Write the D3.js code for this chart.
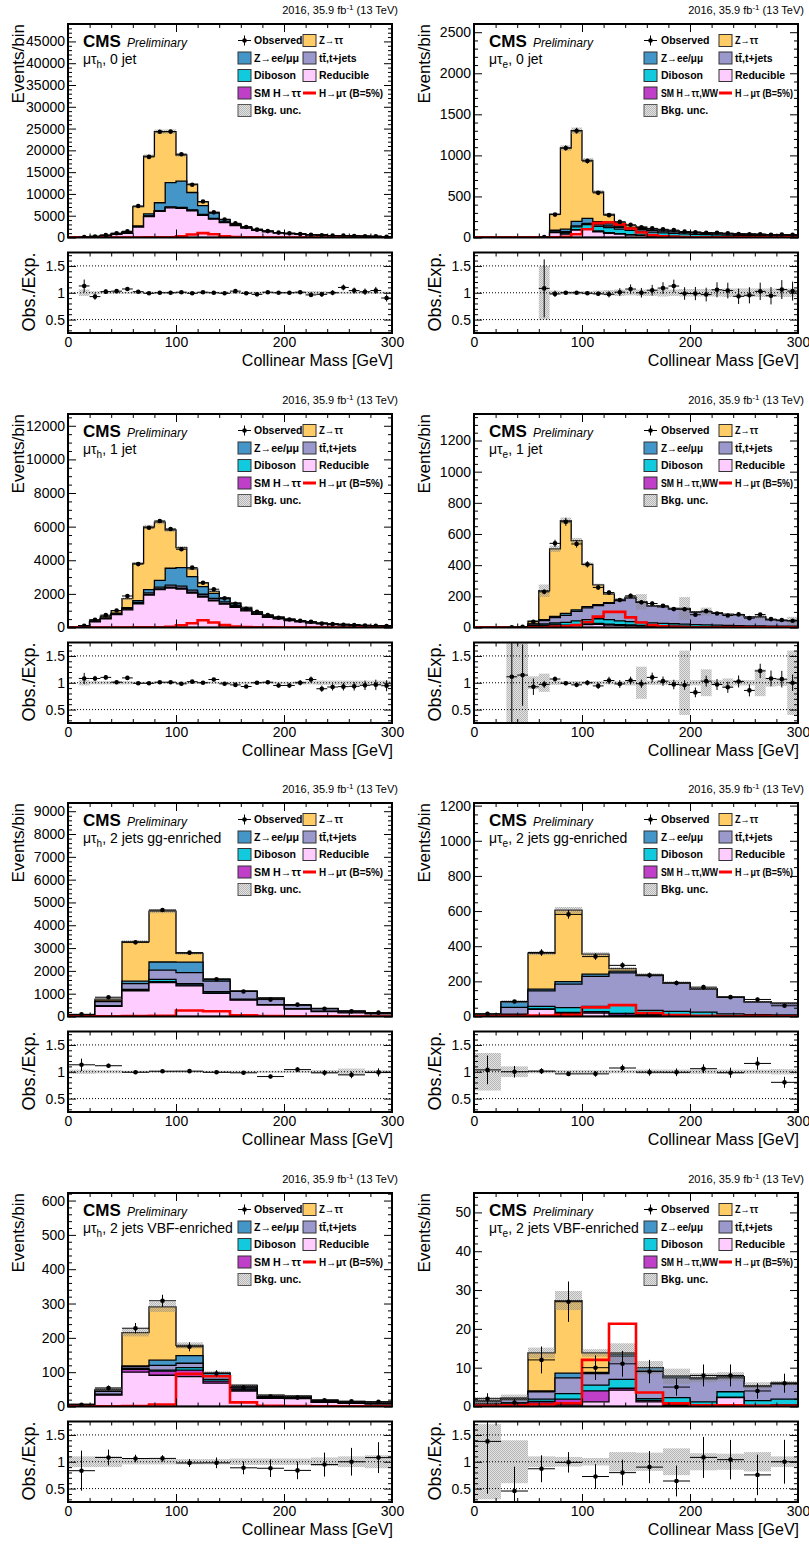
<!DOCTYPE html>
<html>
<head>
<meta charset="utf-8">
<script src="https://cdn.jsdelivr.net/npm/d3@7"></script>
<style>
  body { margin: 0; background: #fff; }
  svg text { font-family: "Liberation Sans", Arial, Helvetica, sans-serif; }
</style>
</head>
<body>
<svg id="chart" width="809" height="1551"></svg>
<script>
// ---------- binning ----------
const edges10 = [0,10,20,30,40,50,60,70,80,90,100,110,120,130,140,150,160,170,180,190,200,210,220,230,240,250,260,270,280,290,300];
const edges25 = [0,25,50,75,100,125,150,175,200,225,250,275,300];

// ---------- tick labels ----------
const massTicks = [0, 100, 200, 300];
const ratioTicks = [0.5, 1, 1.5];
const p1YTicks = [0,5000,10000,15000,20000,25000,30000,35000,40000,45000];
const p2YTicks = [0,500,1000,1500,2000,2500];
const p3YTicks = [0,2000,4000,6000,8000,10000,12000];
const p4YTicks = [0,200,400,600,800,1000,1200];
const p5YTicks = [0,1000,2000,3000,4000,5000,6000,7000,8000,9000];
const p6YTicks = [0,200,400,600,800,1000,1200];
const p7YTicks = [0,100,200,300,400,500,600];
const p8YTicks = [0,10,20,30,40,50];

// ---------- mu tau_h, 0 jet ----------
const p1Red = [0,60,200,400,700,950,2400,4800,6000,6800,6700,6100,5100,4200,3400,2750,2150,1650,1300,1000,850,700,570,480,400,340,290,240,210,180];
const p1Smh = [0,0,0,2,4,8,15,30,45,60,75,80,75,60,45,30,20,15,10,8,6,5,4,3,3,2,2,2,1,1];
const p1Vv  = [0,2,5,10,15,25,35,50,60,65,65,60,55,50,45,40,35,30,25,22,20,18,15,13,12,10,9,8,7,6];
const p1Tt  = [0,2,5,10,20,30,45,60,75,85,90,90,85,80,75,65,55,50,45,40,35,30,27,24,21,19,17,15,13,12];
const p1Zll = [0,5,15,30,50,80,150,500,1800,5600,6000,4000,2000,1200,550,250,150,100,70,50,40,30,25,20,15,12,10,8,7,6];
const p1Ztt = [0,10,40,80,150,250,4450,13250,16300,11700,6000,1900,850,180,60,30,15,10,5,3,2,1,1,1,0,0,0,0,0,0];
const p1Obs = [0,89,246,543,967,1437,7237,18503,24280,24310,19119,12108,8247,5770,4133,3260,2401,1799,1470,1123,953,792,616,525,451,421,341,278,248,185];
const p1Sig = [0,0,0,0,0,5,10,20,40,60,300,700,1000,750,300,100,40,20,10,5,3,2,1,1,1,0,0,0,0,0];
const p1Unc = [0,0.06,0.03,0.02,0.02,0.02,0.02,0.02,0.02,0.02,0.02,0.02,0.02,0.02,0.02,0.02,0.02,0.02,0.02,0.02,0.02,0.02,0.03,0.03,0.02,0.02,0.02,0.02,0.02,0.02];

// ---------- mu tau_e, 0 jet ----------
const p2Red = [0,0,0,0,0,0,2,60,40,90,100,70,50,40,30,25,20,15,12,10,8,7,6,5,5,4,4,3,3,3];
const p2Smh = [0,0,0,0,0,0,0,2,3,5,8,10,10,8,6,4,3,2,2,1,1,1,1,1,0.5,0.5,0.5,0.5,0.5,0.5];
const p2Vv  = [0,0,0,0,0,0,0.7,15,20,35,50,55,60,55,50,48,43,40,36,33,30,27,25,23,21,20,18,17,16,15];
const p2Tt  = [0,0,0,0,0,0,0.5,5,8,12,15,18,20,22,22,22,21,20,19,18,17,16,15,14,13,12,11,10,9,9];
const p2Zll = [0,0,0,0,0,0,0.2,8,30,55,60,40,25,15,10,8,6,5,4,4,4,4,3,3,3,3,3,3,3,3];
const p2Ztt = [0,0,0,0,0,0,0.3,195,989,1103,707,362,115,48,27,18,13,10,7,6,5,4,4,3,2.5,2.5,2.5,2.5,2.5,2.5];
const p2Obs = [0,0,0,0,0,0,4,279,1090,1300,931,544,272,190,155,125,111,100,90,71,64,57,57,51,42,40,40,34,36,34];
const p2Sig = [0,0,0,0,0,0,0,2,10,40,100,175,185,160,110,60,30,15,8,5,3,2,2,1,1,1,1,1,1,1];
const p2Unc = [0,0,0,0,0,0,0.5,0.04,0.03,0.03,0.03,0.04,0.05,0.06,0.05,0.06,0.06,0.07,0.06,0.07,0.07,0.07,0.07,0.08,0.08,0.08,0.08,0.08,0.08,0.08];

// ---------- mu tau_h, 1 jet ----------
const p3Red = [0,80,330,520,770,1050,1400,1930,2250,2350,2280,2040,1810,1580,1390,1200,990,775,605,512,415,330,262,212,174,146,123,102,85,73];
const p3Smh = [0,0,0,1,2,3,6,10,15,22,28,30,28,22,16,11,8,6,4,3,2,2,1,1,1,1,0,0,0,0];
const p3Vv  = [0,1,3,6,10,15,20,25,30,32,33,32,30,28,26,23,20,18,16,14,12,10,9,8,7,6,5,4,4,3];
const p3Tt  = [0,3,10,20,35,50,70,90,110,120,125,120,110,100,90,80,70,60,52,45,38,32,27,23,19,16,13,11,9,8];
const p3Zll = [0,2,10,20,40,60,100,200,400,1000,1100,800,450,300,190,120,80,60,45,35,28,22,18,14,12,10,8,7,6,5];
const p3Ztt = [0,14,77,103,143,542,2214,3735,3465,2276,1184,468,232,120,58,36,22,11,8,6,5,4,3,2,2,1,1,1,1,1];
const p3Obs = [0,108,464,737,1010,1875,3772,5930,6333,5858,4655,3560,2660,2279,1735,1411,1107,930,737,584,475,400,339,231,198,167,140,119,101,85];
const p3Sig = [0,0,0,0,0,2,5,8,10,40,130,250,430,300,140,60,25,10,5,3,2,2,1,1,1,1,1,0,0,0];
const p3Unc = [0,0.05,0.03,0.03,0.03,0.03,0.02,0.02,0.02,0.02,0.02,0.02,0.02,0.02,0.02,0.02,0.02,0.02,0.02,0.02,0.02,0.03,0.03,0.04,0.04,0.04,0.04,0.04,0.04,0.04];

// ---------- mu tau_e, 1 jet ----------
const p4Red = [0,0,0,0.3,1.0,8,14,15,12,15,18,20,16,14,12,10,9,8,7,6,5,5,4,4,3,3,3,2,2,2];
const p4Smh = [0,0,0,0,0,0.5,1,2,3,4,5,6,6,5,4,3,3,2,2,2,1,1,1,1,1,1,1,1,1,1];
const p4Vv  = [0,0,0,0.1,0.5,3,8,12,18,24,28,30,28,24,22,20,18,16,15,14,12,11,10,9,8,7,7,6,5,5];
const p4Tt  = [0,0,0,0.2,1,10,22,35,45,60,75,85,105,130,150,128,107,106,96,98,80,84,77,69,69,58,56,40,36,34];
const p4Zll = [0,0,0,0.1,0.5,2,6,8,12,10,8,6,5,3,2,1,1,1,1,1,1,0.5,0.5,0.5,0.5,0.5,0.5,0.5,0.5,0.5];
const p4Ztt = [0,0,0,0.2,0.5,16.5,185,433,595,445,271,126,55,4,5,3,2,2,1,1,1,0.5,0.5,0.5,0.5,0.5,0.5,0.5,0.5,0.5];
const p4Obs = [0,0,0,1,4,37,229,540,678,536,405,257,224,176,203,162,154,139,118,117,82,105,90,77,84,60,83,54,48,43];
const p4Sig = [0,0,0,0,0,1,2,4,8,15,35,70,100,100,65,32,15,8,5,3,2,2,1,1,1,1,1,0.5,0.5,0.5];
const p4Unc = [0,0,0,1.0,0.9,0.12,0.17,0.04,0.03,0.03,0.03,0.03,0.03,0.03,0.05,0.3,0.04,0.04,0.05,0.6,0.05,0.25,0.05,0.08,0.05,0.05,0.25,0.07,0.06,0.6];

// ---------- mu tau_h, 2 jets gg-enriched ----------
const p5Red = [55,450,1120,1490,1340,1010,715,500,320,220,160,115];
const p5Smh = [0,5,20,40,45,30,15,8,4,2,1,1];
const p5Vv  = [2,15,50,100,55,50,30,15,10,7,5,4];
const p5Tt  = [15,180,250,400,480,460,340,270,160,115,70,48];
const p5Zll = [3,30,110,360,465,70,15,10,5,4,3,2];
const p5Ztt = [10,80,1730,2230,385,30,5,12,1,2,1,0];
const p5Obs = [96,845,3250,4666,2800,1633,1098,742,520,343,226,168];
const p5Sig = [5,10,15,30,260,230,50,20,10,5,3,2];
const p5Unc = [0.04,0.03,0.02,0.02,0.02,0.02,0.02,0.02,0.02,0.03,0.06,0.03];

// ---------- mu tau_e, 2 jets gg-enriched ----------
const p6Red = [2,10,40,18,20,8,5,4,3,2,2,2];
const p6Smh = [0.5,1,3,5,8,10,5,3,2,1,1,1];
const p6Vv  = [1,3,15,28,30,45,25,22,20,12,8,6];
const p6Tt  = [7,38,88,133,170,185,198,160,130,94,71,65];
const p6Zll = [3,30,10,14,13,10,2,2,2,1,1,1];
const p6Ztt = [1,3,204,407,114,14,2,2,1,2,1,1];
const p6Obs = [15,85,364,581,341,291,235,191,167,110,97,61];
const p6Sig = [1,2,5,10,52,65,20,8,4,3,2,1];
const p6Unc = [0.35,0.1,0.03,0.03,0.03,0.03,0.04,0.04,0.04,0.04,0.04,0.05];

// ---------- mu tau_h, 2 jets VBF-enriched ----------
const p7Red = [5,33,100,91,87,68,45,24,23,12,9,7];
const p7Smh = [0,1,8,12,19,6,3,1,1,1,0.5,0.5];
const p7Vv  = [0.2,2,3,3,7,5,3,2,2,1,1,1];
const p7Tt  = [0.5,8,5,14,13,10,8,4,3,3,3,3];
const p7Zll = [0.2,3,2,15,22,8,2,1,1,1,0.5,0.5];
const p7Ztt = [0.1,3,97,155,30,1,1,1,1,1,1,1];
const p7Obs = [5,54,228,308,174,96,55,29,26,18,15,14];
const p7Sig = [0.5,0.5,1,6,95,88,12,2,1,0.5,0.5,0.5];
const p7Unc = [0.1,0.1,0.05,0.05,0.05,0.05,0.06,0.06,0.06,0.08,0.1,0.12];

// ---------- mu tau_e, 2 jets VBF-enriched ----------
const p8Red = [0.5,0.3,0.85,0.4,1.2,4.2,1.2,0.3,0.2,2.3,0.2,0.3];
const p8Smh = [0.1,0.1,0.45,1.5,2.8,0.5,0.3,0.2,0.2,0.1,0.1,0.1];
const p8Vv  = [0.2,0.3,0.6,1.4,1.5,2.3,0.5,1.8,0.8,1.4,1.2,1.5];
const p8Tt  = [0.55,1.1,1.9,4.1,3.0,6.0,7.2,5.1,5.9,3.6,3.6,3.9];
const p8Zll = [0.1,0.2,0.2,1.2,0.3,0.5,0.8,0.4,0.3,0.3,0.2,0.2];
const p8Ztt = [0,0.2,9.8,18.7,5.0,0.3,0,0,0,0,0,0];
const p8Obs = [2,1,12,27,10,11,9,5,8,8,4,6];
const p8Sig = [0.2,0.3,0.5,0.85,12.0,21.3,3.6,0.8,0.3,0.3,0.2,0.2];
const p8Unc = [0.7,0.4,0.1,0.09,0.07,0.18,0.17,0.25,0.16,0.15,0.18,0.1];

// ---------- processes & legend ----------
const processKeys = ["red", "smh", "vv", "tt", "zll", "ztt"];   // stacking order, bottom to top
const processColors = { ztt: "#ffcc66", zll: "#4496c8", tt: "#9b99cc", vv: "#12cadd", red: "#ffccff", smh: "#c03fc8" };
const legendCol1 = [
  { type: "obs", label: "Observed" },
  { type: "box", key: "zll", label: "Z\u2192ee/\u03bc\u03bc", fit: "zll" },
  { type: "box", key: "vv", label: "Diboson" },
  { type: "box", key: "smh", label: null, fit: "smh" },
  { type: "unc", label: "Bkg. unc." }
];
const legendCol2 = [
  { type: "box", key: "ztt", label: "Z\u2192\u03c4\u03c4", fit: "ztt" },
  { type: "box", key: "tt", label: "tt\u0304,t+jets" },
  { type: "box", key: "red", label: "Reducible" },
  { type: "line", label: "H\u2192\u03bc\u03c4 (B=5%)", fit: "sig" }
];
const smhLabels = { h: "SM H\u2192\u03c4\u03c4", e: "SM H\u2192\u03c4\u03c4,WW" };
// label widths for entries with arrows / greek letters
const legendFit = { h: { zll: 45, ztt: 24, smh: 47, sig: 64 }, e: { zll: 42, ztt: 23, smh: 57, sig: 58 } };

const panels = [
  { col: 0, row: 0, edges: edges10, yMax: 49000, yTicks: p1YTicks, yMinor: 1000, chan: "h", cat: ", 0 jet",
    procs: { red: p1Red, smh: p1Smh, vv: p1Vv, tt: p1Tt, zll: p1Zll, ztt: p1Ztt }, obs: p1Obs, sig: p1Sig, unc: p1Unc },
  { col: 1, row: 0, edges: edges10, yMax: 2600, yTicks: p2YTicks, yMinor: 100, chan: "e", cat: ", 0 jet",
    procs: { red: p2Red, smh: p2Smh, vv: p2Vv, tt: p2Tt, zll: p2Zll, ztt: p2Ztt }, obs: p2Obs, sig: p2Sig, unc: p2Unc },
  { col: 0, row: 1, edges: edges10, yMax: 12700, yTicks: p3YTicks, yMinor: 500, chan: "h", cat: ", 1 jet",
    procs: { red: p3Red, smh: p3Smh, vv: p3Vv, tt: p3Tt, zll: p3Zll, ztt: p3Ztt }, obs: p3Obs, sig: p3Sig, unc: p3Unc },
  { col: 1, row: 1, edges: edges10, yMax: 1370, yTicks: p4YTicks, yMinor: 50, chan: "e", cat: ", 1 jet",
    procs: { red: p4Red, smh: p4Smh, vv: p4Vv, tt: p4Tt, zll: p4Zll, ztt: p4Ztt }, obs: p4Obs, sig: p4Sig, unc: p4Unc },
  { col: 0, row: 2, edges: edges25, yMax: 9360, yTicks: p5YTicks, yMinor: 200, chan: "h", cat: ", 2 jets gg-enriched",
    procs: { red: p5Red, smh: p5Smh, vv: p5Vv, tt: p5Tt, zll: p5Zll, ztt: p5Ztt }, obs: p5Obs, sig: p5Sig, unc: p5Unc },
  { col: 1, row: 2, edges: edges25, yMax: 1215, yTicks: p6YTicks, yMinor: 50, chan: "e", cat: ", 2 jets gg-enriched",
    procs: { red: p6Red, smh: p6Smh, vv: p6Vv, tt: p6Tt, zll: p6Zll, ztt: p6Ztt }, obs: p6Obs, sig: p6Sig, unc: p6Unc },
  { col: 0, row: 3, edges: edges25, yMax: 622, yTicks: p7YTicks, yMinor: 20, chan: "h", cat: ", 2 jets VBF-enriched",
    procs: { red: p7Red, smh: p7Smh, vv: p7Vv, tt: p7Tt, zll: p7Zll, ztt: p7Ztt }, obs: p7Obs, sig: p7Sig, unc: p7Unc },
  { col: 1, row: 3, edges: edges25, yMax: 55, yTicks: p8YTicks, yMinor: 2, chan: "e", cat: ", 2 jets VBF-enriched",
    procs: { red: p8Red, smh: p8Smh, vv: p8Vv, tt: p8Tt, zll: p8Zll, ztt: p8Ztt }, obs: p8Obs, sig: p8Sig, unc: p8Unc }
];

// ---------- layout ----------
const plotW = 324;
const colX = [68, 474];
const rowY = [0, 390, 779, 1169];
const legendPos = { h: { b1: 170, t1: 186, b2: 235, t2: 251 }, e: { b1: 170, t1: 187, b2: 245, t2: 261 } };
const legendRows = [40.5, 58, 75.5, 93, 110.5];

const svg = d3.select("#chart");
const defs = svg.append("defs");

// fine dotted grey fill used for the background uncertainty
const pat = defs.append("pattern").attr("id", "uncFill")
  .attr("patternUnits", "userSpaceOnUse").attr("width", 2).attr("height", 2);
pat.append("rect").attr("x", 0).attr("y", 0).attr("width", 2).attr("height", 2).attr("fill", "rgba(150,150,150,0.28)");
pat.append("rect").attr("x", 0).attr("y", 0).attr("width", 1).attr("height", 1).attr("fill", "rgba(120,120,120,0.4)");
pat.append("rect").attr("x", 1).attr("y", 1).attr("width", 1).attr("height", 1).attr("fill", "rgba(120,120,120,0.4)");

const fmtInt = d3.format("d");
const fmtRatio = d => String(d);

function stepPoints(edges, vals) {
  const pts = [];
  vals.forEach((v, i) => { pts.push([edges[i], v]); pts.push([edges[i + 1], v]); });
  return pts;
}

function styleAxis(sel) {
  sel.select(".domain").remove();
  sel.selectAll(".tick line").attr("stroke", "#000").attr("stroke-width", 1);
  sel.selectAll(".tick text").attr("fill", "#000").attr("font-size", 14)
    .attr("font-family", "'Liberation Sans', Arial, Helvetica, sans-serif");
}

function drawFrameAxes(g, x, y, x0, x1, top, bot, major, minor, xLabels, yFormat) {
  const xMinor = [20,40,60,80,120,140,160,180,220,240,260,280];
  g.append("g").attr("transform", `translate(0,${bot})`)
    .call(d3.axisBottom(x).tickValues(massTicks).tickSize(-8).tickPadding(4)
      .tickFormat(xLabels ? fmtInt : () => "")).call(styleAxis);
  g.append("g").attr("transform", `translate(0,${bot})`)
    .call(d3.axisBottom(x).tickValues(xMinor).tickSize(-4).tickFormat(() => "")).call(styleAxis);
  g.append("g").attr("transform", `translate(0,${top})`)
    .call(d3.axisTop(x).tickValues(massTicks).tickSize(-8).tickFormat(() => "")).call(styleAxis);
  g.append("g").attr("transform", `translate(0,${top})`)
    .call(d3.axisTop(x).tickValues(xMinor).tickSize(-4).tickFormat(() => "")).call(styleAxis);
  g.append("g").attr("transform", `translate(${x0},0)`)
    .call(d3.axisLeft(y).tickValues(major).tickSize(-8).tickPadding(3).tickFormat(yFormat)).call(styleAxis);
  g.append("g").attr("transform", `translate(${x0},0)`)
    .call(d3.axisLeft(y).tickValues(minor).tickSize(-4).tickFormat(() => "")).call(styleAxis);
  g.append("g").attr("transform", `translate(${x1},0)`)
    .call(d3.axisRight(y).tickValues(major).tickSize(-8).tickFormat(() => "")).call(styleAxis);
  g.append("g").attr("transform", `translate(${x1},0)`)
    .call(d3.axisRight(y).tickValues(minor).tickSize(-4).tickFormat(() => "")).call(styleAxis);
  g.append("rect").attr("x", x0).attr("y", top).attr("width", x1 - x0).attr("height", bot - top)
    .attr("fill", "none").attr("stroke", "#000").attr("stroke-width", 2);
}

function drawObserved(g, edges, x, yFn, vals, errs) {
  vals.forEach((v, i) => {
    if (v === null) return;
    const xc = x((edges[i] + edges[i + 1]) / 2);
    const yc = yFn(v);
    g.append("line").attr("x1", x(edges[i])).attr("x2", x(edges[i + 1])).attr("y1", yc).attr("y2", yc)
      .attr("stroke", "#000").attr("stroke-width", 1);
    g.append("line").attr("x1", xc).attr("x2", xc).attr("y1", yFn(v - errs[i])).attr("y2", yFn(v + errs[i]))
      .attr("stroke", "#000").attr("stroke-width", 1);
    g.append("circle").attr("cx", xc).attr("cy", yc).attr("r", 2.3).attr("fill", "#000");
  });
}

function drawPanel(p, idx) {
  const x0 = colX[p.col], x1 = x0 + plotW, ry = rowY[p.row];
  const mTop = ry + 24, mBot = ry + 237.5;
  const rTop = ry + 252.5, rBot = ry + 333;
  const x = d3.scaleLinear().domain([0, 300]).range([x0, x1]);
  const y = d3.scaleLinear().domain([0, p.yMax]).range([mBot, mTop]);
  const yr = d3.scaleLinear().domain([0.25, 1.75]).range([rBot, rTop]);
  const nb = p.edges.length - 1;

  const table = d3.range(nb).map(i => {
    const o = {};
    processKeys.forEach(k => { o[k] = p.procs[k][i]; });
    return o;
  });
  const series = d3.stack().keys(processKeys)(table);
  const total = series[series.length - 1].map(d => d[1]);

  defs.append("clipPath").attr("id", "cm" + idx).append("rect")
    .attr("x", x0).attr("y", mTop).attr("width", plotW).attr("height", mBot - mTop);
  defs.append("clipPath").attr("id", "cr" + idx).append("rect")
    .attr("x", x0).attr("y", rTop).attr("width", plotW).attr("height", rBot - rTop);

  // ----- main pad: stacked backgrounds, uncertainty, signal, data -----
  const gm = svg.append("g").attr("clip-path", `url(#cm${idx})`);
  const area = d3.area().x(d => x(d[0])).y0(y(0)).y1(d => y(d[1]));
  for (let s = series.length - 1; s >= 0; s--) {
    const key = series[s].key;
    gm.append("path").attr("d", area(stepPoints(p.edges, series[s].map(d => d[1]))))
      .attr("fill", processColors[key]).attr("stroke", "#000").attr("stroke-width", 1.3);
  }
  total.forEach((t, i) => {
    if (t <= 0) return;
    gm.append("rect").attr("x", x(p.edges[i])).attr("width", x(p.edges[i + 1]) - x(p.edges[i]))
      .attr("y", y(t * (1 + p.unc[i]))).attr("height", y(t * (1 - p.unc[i])) - y(t * (1 + p.unc[i])))
      .attr("fill", "url(#uncFill)");
  });
  gm.append("path").attr("d", d3.line().x(d => x(d[0])).y(d => y(d[1]))(stepPoints(p.edges, p.sig)))
    .attr("fill", "none").attr("stroke", "#ff0000").attr("stroke-width", 2.6);
  drawObserved(gm, p.edges, x, y,
    p.obs.map(v => v > 0 ? v : null), p.obs.map(v => Math.sqrt(v)));

  const minorMain = d3.range(0, p.yMax, p.yMinor).filter(v => !p.yTicks.includes(v));
  drawFrameAxes(svg.append("g"), x, y, x0, x1, mTop, mBot, p.yTicks, minorMain, false, fmtInt);

  // ----- ratio pad -----
  const gr = svg.append("g").attr("clip-path", `url(#cr${idx})`);
  total.forEach((t, i) => {
    if (t <= 0 || p.unc[i] <= 0) return;
    gr.append("rect").attr("x", x(p.edges[i])).attr("width", x(p.edges[i + 1]) - x(p.edges[i]))
      .attr("y", yr(1 + p.unc[i])).attr("height", yr(1 - p.unc[i]) - yr(1 + p.unc[i]))
      .attr("fill", "url(#uncFill)");
  });
  ratioTicks.forEach(v => {
    gr.append("line").attr("x1", x0).attr("x2", x1).attr("y1", yr(v)).attr("y2", yr(v))
      .attr("stroke", "#000").attr("stroke-width", 1).attr("stroke-dasharray", "1,2");
  });
  drawObserved(gr, p.edges, x, yr,
    p.obs.map((v, i) => (v > 0 && total[i] > 0) ? v / total[i] : null),
    p.obs.map((v, i) => total[i] > 0 ? Math.sqrt(v) / total[i] : 0));
  const minorRatio = d3.range(3, 18).filter(k => k % 5 !== 0).map(k => k / 10);
  drawFrameAxes(svg.append("g"), x, yr, x0, x1, rTop, rBot, ratioTicks, minorRatio, true, fmtRatio);

  // ----- texts -----
  const t = svg.append("g");
  t.append("text").attr("x", x1 + 6).attr("y", ry + 13.5).attr("text-anchor", "end").attr("font-size", 11)
    .call(s => {
      s.append("tspan").text("2016, 35.9 fb");
      s.append("tspan").attr("font-size", 8).attr("dy", -4).text("-1");
      s.append("tspan").attr("dy", 4).text(" (13 TeV)");
    });
  t.append("text").attr("x", x0 + 15).attr("y", ry + 46.5).attr("font-size", 17).attr("font-weight", "bold").text("CMS");
  t.append("text").attr("x", x0 + 59).attr("y", ry + 46.5).attr("font-size", 12).attr("font-style", "italic").text("Preliminary");
  t.append("text").attr("x", x0 + 15).attr("y", ry + 63.5).attr("font-size", 14)
    .call(s => {
      s.append("tspan").text("\u03bc\u03c4");
      s.append("tspan").attr("font-size", 10).attr("dy", 4).text(p.chan);
      s.append("tspan").attr("dy", -4).text(p.cat);
    });
  t.append("text").attr("transform", `translate(${x0 - 44},${mTop}) rotate(-90)`)
    .attr("text-anchor", "end").attr("font-size", 17).text("Events/bin");
  t.append("text").attr("transform", `translate(${x0 - 33},${rTop}) rotate(-90)`)
    .attr("text-anchor", "end").attr("font-size", 18).text("Obs./Exp.");
  t.append("text").attr("x", x1 + 1).attr("y", ry + 366).attr("text-anchor", "end").attr("font-size", 16)
    .text("Collinear Mass [GeV]");

  // ----- legend -----
  const L = legendPos[p.chan];
  const fits = legendFit[p.chan];
  const lg = svg.append("g").attr("font-size", 10.5).attr("font-weight", "bold");
  function entry(e, bx, tx, cy) {
    if (e.type === "obs") {
      const cx = x0 + bx + 6.5;
      lg.append("line").attr("x1", x0 + bx).attr("x2", x0 + bx + 13).attr("y1", cy).attr("y2", cy).attr("stroke", "#000");
      lg.append("line").attr("x1", cx).attr("x2", cx).attr("y1", cy - 5).attr("y2", cy + 5).attr("stroke", "#000");
      lg.append("circle").attr("cx", cx).attr("cy", cy).attr("r", 2.3).attr("fill", "#000");
    } else if (e.type === "box") {
      lg.append("rect").attr("x", x0 + bx).attr("y", cy - 6).attr("width", 13).attr("height", 12)
        .attr("fill", processColors[e.key]).attr("stroke", "#333").attr("stroke-width", 1);
    } else if (e.type === "unc") {
      lg.append("rect").attr("x", x0 + bx).attr("y", cy - 6).attr("width", 13).attr("height", 12)
        .attr("fill", "url(#uncFill)").attr("stroke", "#555").attr("stroke-width", 1);
    } else if (e.type === "line") {
      lg.append("line").attr("x1", x0 + bx).attr("x2", x0 + bx + 13).attr("y1", cy).attr("y2", cy)
        .attr("stroke", "#ff0000").attr("stroke-width", 3);
    }
    const txt = lg.append("text").attr("x", x0 + tx).attr("y", cy + 3.8)
      .text(e.label === null ? smhLabels[p.chan] : e.label);
    if (e.fit) txt.attr("textLength", fits[e.fit]).attr("lengthAdjust", "spacingAndGlyphs");
  }
  legendCol1.forEach((e, i) => entry(e, L.b1, L.t1, ry + legendRows[i]));
  legendCol2.forEach((e, i) => entry(e, L.b2, L.t2, ry + legendRows[i]));
}

panels.forEach(drawPanel);
</script>
</body>
</html>
